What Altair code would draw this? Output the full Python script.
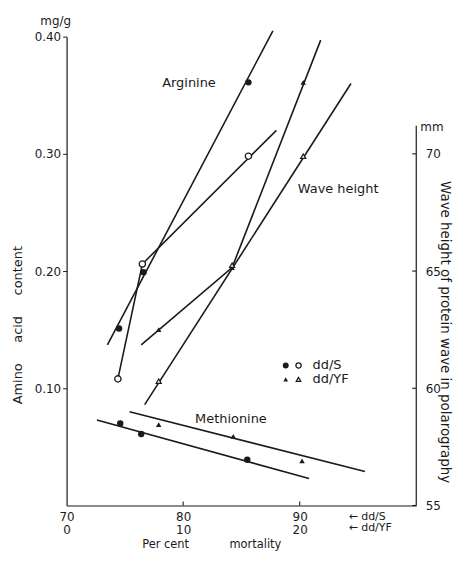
import altair as alt
import pandas as pd

FONT = "DejaVu Sans"
INK = "#1a1a1a"

# Amino acid content, mg/g ; x = per cent mortality
ARG_S_MORT = [74.5, 76.6, 85.6]          # dd/S scale
ARG_S_VAL = [0.151, 0.199, 0.361]
ARG_YF_MORT = [7.9, 14.2, 20.3]          # dd/YF scale
ARG_YF_VAL = [0.150, 0.203, 0.361]
MET_S_MORT = [74.6, 76.4, 85.5]
MET_S_VAL = [0.070, 0.061, 0.039]
MET_YF_MORT = [7.9, 14.3, 20.2]
MET_YF_VAL = [0.069, 0.059, 0.038]
# Wave height of protein wave, mm
WAVE_S_MORT = [74.4, 76.5, 85.6]
WAVE_S_MM = [60.4, 65.3, 69.9]
WAVE_YF_MORT = [7.9, 14.2, 20.3]
WAVE_YF_MM = [60.3, 65.25, 69.9]

# ---------------- drawn lines (end / bend points as read) ----------------
ARG_S_LINE_MORT = [73.5, 87.7]
ARG_S_LINE_VAL = [0.137, 0.405]
ARG_YF_LINE_MORT = [6.4, 14.2, 21.8]
ARG_YF_LINE_VAL = [0.137, 0.203, 0.397]
MET_S_LINE_MORT = [72.6, 90.8]
MET_S_LINE_VAL = [0.073, 0.023]
MET_YF_LINE_MORT = [5.4, 25.6]
MET_YF_LINE_VAL = [0.080, 0.029]
WAVE_S_LINE_MORT = [74.4, 76.5, 88.0]
WAVE_S_LINE_MM = [60.4, 65.3, 71.0]
WAVE_YF_LINE_MORT = [6.7, 24.4]
WAVE_YF_LINE_MM = [59.3, 73.0]

# ---------------- axes ----------------
X_DOMAIN = [70, 100]
X_TICKS = [70, 80, 90]
YF_ZERO = 70            # dd/YF 0 % is placed at dd/S 70 %
Y_DOMAIN = [0, 0.40]
Y_TICKS = [0.10, 0.20, 0.30, 0.40]
MM_DOMAIN = [55, 75]
MM_TICKS = [55, 60, 65, 70]
MM_AXIS_TOP = 71.2

# ---------------- annotations ----------------
SERIES_LABELS = ["Arginine", "Methionine", "Wave height"]
SERIES_LABEL_X = [80.5, 84.1, 93.3]
SERIES_LABEL_Y = [0.360, 0.074, 0.270]
LEGEND_TEXT = ["dd/S", "dd/YF"]
LEGEND_Y = [0.1195, 0.1076]
LEGEND_FILLED_X = 88.8
LEGEND_OPEN_X = 89.9
LEGEND_TEXT_X = 91.1
ARROW_TEXT = ["\u2190 dd/S", "\u2190 dd/YF"]
ARROW_X = 94.2
ARROW_Y = [-0.0095, -0.0195]
XTITLE_TEXT = ["Per cent", "mortality"]
XTITLE_X = [78.5, 86.2]
XTITLE_Y = -0.0337


def line_df(mort, vals, key, name, offset=0):
    return pd.DataFrame({"mort": [m + offset for m in mort], key: vals,
                         "line": name, "i": list(range(len(mort)))})


def pts_df(mort, vals, key, offset=0):
    return pd.DataFrame({"mort": [m + offset for m in mort], key: vals})


x_axis = alt.Axis(values=X_TICKS, ticks=False, grid=False, title=None,
                  domainColor=INK, domainWidth=1.2,
                  labelExpr=f"[datum.label, '' + (datum.value - {YF_ZERO})]",
                  labelLineHeight=13.5, labelPadding=6, labelFontSize=12,
                  labelFont=FONT, labelColor=INK, labelAlign="center")
left_axis = alt.Axis(values=Y_TICKS, format=".2f", grid=False, tickSize=4,
                     tickColor=INK, domainColor=INK, domainWidth=1.2,
                     labelFontSize=12, labelFont=FONT, labelColor=INK,
                     labelPadding=2,
                     title="Amino\u00a0\u00a0\u00a0\u00a0\u00a0acid\u00a0\u00a0\u00a0\u00a0\u00a0content",
                     titleFont=FONT, titleFontSize=13, titleFontWeight="normal",
                     titleColor=INK, titleX=-49, titleY=290,
                     titleBaseline="middle", titleAlign="center")
right_axis = alt.Axis(orient="right", values=MM_TICKS, grid=False, domain=False,
                      ticks=False, labelPadding=9, labelFontSize=12,
                      labelFont=FONT, labelColor=INK,
                      title="Wave height of protein wave in polarography",
                      titleFont=FONT, titleFontSize=13.5, titleFontWeight="normal",
                      titleColor=INK, titleX=28.5, titleY=297,
                      titleBaseline="middle", titleAlign="center")

X = alt.X("mort:Q", scale=alt.Scale(domain=X_DOMAIN, nice=False, zero=False), axis=x_axis)
YL = alt.Y("val:Q", scale=alt.Scale(domain=Y_DOMAIN, nice=False, zero=False), axis=left_axis)
YR = alt.Y("mm:Q", scale=alt.Scale(domain=MM_DOMAIN, nice=False, zero=False), axis=right_axis)

# ---------- left (amino acid content) ----------
lines_left = pd.concat([
    line_df(ARG_S_LINE_MORT, ARG_S_LINE_VAL, "val", "arg_s"),
    line_df(ARG_YF_LINE_MORT, ARG_YF_LINE_VAL, "val", "arg_yf", YF_ZERO),
    line_df(MET_S_LINE_MORT, MET_S_LINE_VAL, "val", "met_s"),
    line_df(MET_YF_LINE_MORT, MET_YF_LINE_VAL, "val", "met_yf", YF_ZERO),
])
circles_left = pd.concat([pts_df(ARG_S_MORT, ARG_S_VAL, "val"),
                          pts_df(MET_S_MORT, MET_S_VAL, "val")])
tri_left = pd.concat([pts_df(ARG_YF_MORT, ARG_YF_VAL, "val", YF_ZERO),
                      pts_df(MET_YF_MORT, MET_YF_VAL, "val", YF_ZERO)])

l_lines = alt.Chart(lines_left).mark_line(color=INK, strokeWidth=1.6).encode(
    x=X, y=YL, detail="line:N", order="i:Q")
l_circ = alt.Chart(circles_left).mark_point(shape="circle", filled=True, size=42,
                                            color=INK, opacity=1).encode(x=X, y=YL)
l_tri = alt.Chart(tri_left).mark_point(shape="triangle-up", filled=True, size=30,
                                       color=INK, opacity=1).encode(x=X, y=YL)

x_tick_df = pd.DataFrame({"mort": X_TICKS[1:], "val": 0.0, "val2": 0.0035})
l_xticks = alt.Chart(x_tick_df).mark_rule(color=INK, strokeWidth=1.1).encode(
    x=X, y=YL, y2="val2:Q")

lab_df = pd.DataFrame({"mort": SERIES_LABEL_X, "val": SERIES_LABEL_Y, "t": SERIES_LABELS})
l_labels = alt.Chart(lab_df).mark_text(font=FONT, fontSize=13, color=INK).encode(
    x=X, y=YL, text="t:N")

mg_df = pd.DataFrame({"mort": [69.06], "val": [0.413], "t": ["mg/g"]})
l_mg = alt.Chart(mg_df).mark_text(font=FONT, fontSize=12, color=INK).encode(
    x=X, y=YL, text="t:N")

leg_sym_df = pd.DataFrame({
    "mort": [LEGEND_FILLED_X, LEGEND_OPEN_X, LEGEND_FILLED_X, LEGEND_OPEN_X],
    "val": [LEGEND_Y[0], LEGEND_Y[0], LEGEND_Y[1], LEGEND_Y[1]],
    "sym": ["fc", "oc", "ft", "ot"]})
l_leg_fc = alt.Chart(leg_sym_df).transform_filter("datum.sym == 'fc'").mark_point(
    shape="circle", filled=True, size=36, color=INK, opacity=1).encode(x=X, y=YL)
l_leg_oc = alt.Chart(leg_sym_df).transform_filter("datum.sym == 'oc'").mark_point(
    shape="circle", filled=False, size=28, color=INK, strokeWidth=1.3, opacity=1).encode(x=X, y=YL)
l_leg_ft = alt.Chart(leg_sym_df).transform_filter("datum.sym == 'ft'").mark_point(
    shape="triangle-up", filled=True, size=22, color=INK, opacity=1).encode(x=X, y=YL)
l_leg_ot = alt.Chart(leg_sym_df).transform_filter("datum.sym == 'ot'").mark_point(
    shape="triangle-up", filled=False, size=20, color=INK, strokeWidth=1.3, opacity=1).encode(x=X, y=YL)
leg_txt_df = pd.DataFrame({"mort": LEGEND_TEXT_X, "val": LEGEND_Y, "t": LEGEND_TEXT})
l_leg_txt = alt.Chart(leg_txt_df).mark_text(font=FONT, fontSize=13, color=INK,
                                            align="left", baseline="middle").encode(
    x=X, y=YL, text="t:N")

arrow_df = pd.DataFrame({"mort": ARROW_X, "val": ARROW_Y, "t": ARROW_TEXT})
l_arrow = alt.Chart(arrow_df).mark_text(font=FONT, fontSize=11, color=INK,
                                        align="left", baseline="middle").encode(
    x=X, y=YL, text="t:N")

xt_df = pd.DataFrame({"mort": XTITLE_X, "val": XTITLE_Y, "t": XTITLE_TEXT})
l_xtitle = alt.Chart(xt_df).mark_text(font=FONT, fontSize=11.5, color=INK,
                                      baseline="middle").encode(x=X, y=YL, text="t:N")

left = alt.layer(l_lines, l_xticks, l_circ, l_tri, l_labels, l_mg,
                 l_leg_fc, l_leg_oc, l_leg_ft, l_leg_ot, l_leg_txt, l_arrow, l_xtitle)

# ---------- right (wave height, mm) ----------
lines_right = pd.concat([
    line_df(WAVE_S_LINE_MORT, WAVE_S_LINE_MM, "mm", "wave_s"),
    line_df(WAVE_YF_LINE_MORT, WAVE_YF_LINE_MM, "mm", "wave_yf", YF_ZERO),
])
r_lines = alt.Chart(lines_right).mark_line(color=INK, strokeWidth=1.6).encode(
    x=X, y=YR, detail="line:N", order="i:Q")
r_circ = alt.Chart(pts_df(WAVE_S_MORT, WAVE_S_MM, "mm")).mark_point(
    shape="circle", filled=False, fill="white", size=40, color=INK,
    strokeWidth=1.3, opacity=1, fillOpacity=1).encode(x=X, y=YR)
r_tri = alt.Chart(pts_df(WAVE_YF_MORT, WAVE_YF_MM, "mm", YF_ZERO)).mark_point(
    shape="triangle-up", filled=False, fill="white", size=26, color=INK,
    strokeWidth=1.2, opacity=1, fillOpacity=1).encode(x=X, y=YR)

r_axis_df = pd.DataFrame({"mort": [X_DOMAIN[1]], "mm": [MM_DOMAIN[0]], "mm2": [MM_AXIS_TOP]})
r_axis_line = alt.Chart(r_axis_df).mark_rule(color=INK, strokeWidth=1.2).encode(
    x=X, y=YR, y2="mm2:Q")
r_tick_df = pd.DataFrame({"mort": 99.65, "mort2": X_DOMAIN[1], "mm": MM_TICKS})
r_ticks = alt.Chart(r_tick_df).mark_rule(color=INK, strokeWidth=1.1).encode(
    x=X, x2="mort2:Q", y=YR)
mm_df = pd.DataFrame({"mort": [100.35], "mm": [71.15], "t": ["mm"]})
r_mm = alt.Chart(mm_df).mark_text(font=FONT, fontSize=12, color=INK, align="left",
                                  baseline="middle").encode(x=X, y=YR, text="t:N")

right = alt.layer(r_lines, r_circ, r_tri, r_axis_line, r_ticks, r_mm)

chart = alt.layer(left, right).resolve_scale(y="independent").properties(
    width=352, height=472, autosize="none",
    padding={"left": 59, "top": 27, "right": 38, "bottom": 45},
    background="white",
).configure_view(stroke=None)

chart.save("out.html", embed_options={"renderer": "svg", "actions": False})
